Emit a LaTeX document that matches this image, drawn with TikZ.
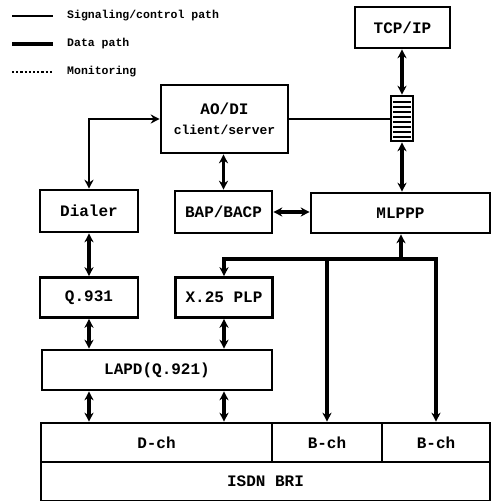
\documentclass[tikz,border=0pt]{standalone}
\usepackage{fontspec}
\setmonofont{Liberation Mono}
\usetikzlibrary{arrows.meta}
\begin{document}
\begin{tikzpicture}[x=1pt,y=-1pt,
  box/.style={draw,line width=2.6pt,inner sep=0pt,font=\ttfamily\bfseries\fontsize{16}{18}\selectfont},
  legtext/.style={anchor=west,inner sep=0pt,font=\ttfamily\bfseries\fontsize{11.5}{13}\selectfont},
  tip/.tip={Stealth[length=9pt,width=9pt]},
  dline/.style={line width=3.2pt},
  sline/.style={line width=2.2pt},
  both/.style={tip-tip}]
\useasboundingbox (0,0) rectangle (492,501);
% legend
\draw[line width=2.2pt] (12,16) -- (53,16);
\draw[line width=3.4pt] (12,44) -- (53,44);
\draw[line width=2.2pt,dotted] (12,72) -- (53,72);
\node[legtext] (l1) at (67,16) {Signaling/control path};
\node[legtext] (l2) at (67,44) {Data path};
\node[legtext] (l3) at (67,72) {Monitoring};
% boxes
\node[box,minimum width=95,minimum height=41] (tcp) at (402.5,27.5) {TCP/IP};
\node[draw,line width=2.6pt,minimum width=22,minimum height=45,inner sep=0pt] (queue) at (402,118.5) {};
\foreach \yy in {102,107,...,137} \draw[line width=1.8pt] (393,\yy) -- (411,\yy);
\node[box,minimum width=127,minimum height=68,align=center] (aodi) at (224.5,119)
  {AO/DI\\[2pt]{\fontsize{13}{15}\selectfont client/server}};
\node[box,minimum width=98,minimum height=42] (dialer) at (89,211) {Dialer};
\node[box,minimum width=97,minimum height=42] (bap) at (223.5,212) {BAP/BACP};
\node[box,minimum width=179,minimum height=40] (mlppp) at (400.5,213) {MLPPP};
\node[box,minimum width=98,minimum height=40] (q931) at (89,297.5) {Q.931};
\node[box,minimum width=97,minimum height=40] (x25) at (224,297.5) {X.25 PLP};
\node[box,minimum width=230,minimum height=40] (lapd) at (157,370) {LAPD(Q.921)};
\node[box,minimum width=231,minimum height=39] (dch) at (156.5,442.5) {D-ch};
\node[box,minimum width=110,minimum height=39] (bch1) at (327,442.5) {B-ch};
\node[box,minimum width=108,minimum height=39] (bch2) at (436,442.5) {B-ch};
\node[box,minimum width=449,minimum height=39] (isdn) at (265.5,481.5) {ISDN BRI};
% signalling
\draw[sline,both] (dialer.north) |- (aodi.west);
\draw[sline] (aodi.east) -- (aodi.east -| queue.west);
% data
\draw[dline,both] (queue.north |- tcp.south) -- (queue.north);
\draw[dline,both] (queue.south) -- (queue.south |- mlppp.north);
\draw[dline,both] (bap.north) -- (bap.north |- aodi.south);
\draw[dline,both] (bap.east) -- (bap.east -| mlppp.west);
\draw[dline,both] (dialer.south) -- (q931.north);
\draw[dline,both] (q931.south) -- (q931.south |- lapd.north);
\draw[dline,both] (x25.south) -- (x25.south |- lapd.north);
\draw[dline,both] (lapd.south -| q931.south) -- (q931.south |- dch.north);
\draw[dline,both] (lapd.south -| x25.south) -- (x25.south |- dch.north);
\coordinate (j) at (401,259);
\draw[dline,both,line join=miter] (x25.north) -- (x25.north |- j) -- (bch2.north |- j) -- (bch2.north);
\draw[dline,-tip] (bch1.north |- j) -- (bch1.north);
\draw[dline,tip-] (mlppp.south -| j) -- (j);
\end{tikzpicture}
\end{document}
